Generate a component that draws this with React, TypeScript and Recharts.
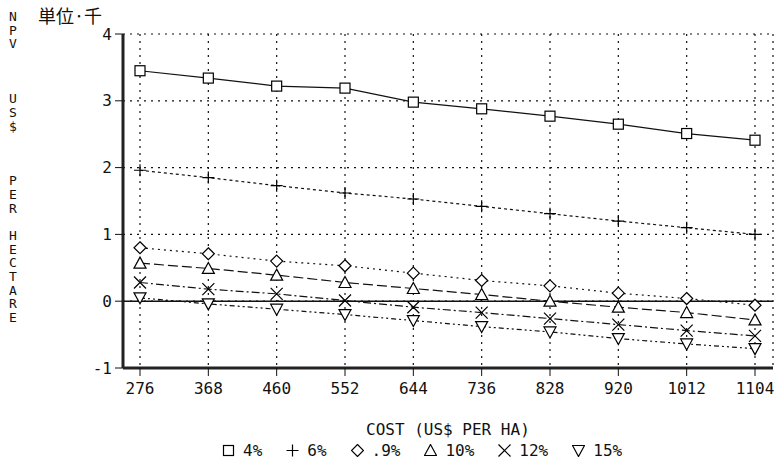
import { LineChart, Line, XAxis, YAxis, CartesianGrid, ReferenceLine } from 'recharts'

const costs = ['276', '368', '460', '552', '644', '736', '828', '920', '1012', '1104']
const npv4 = [3.45, 3.34, 3.22, 3.19, 2.98, 2.88, 2.77, 2.65, 2.51, 2.41]
const npv6 = [1.96, 1.85, 1.73, 1.62, 1.53, 1.42, 1.31, 1.2, 1.1, 1.0]
const npv9 = [0.8, 0.71, 0.6, 0.53, 0.42, 0.31, 0.23, 0.12, 0.04, -0.06]
const npv10 = [0.57, 0.49, 0.39, 0.28, 0.19, 0.1, 0.0, -0.09, -0.17, -0.28]
const npv12 = [0.28, 0.18, 0.11, 0.01, -0.09, -0.17, -0.26, -0.35, -0.44, -0.52]
const npv15 = [0.05, -0.04, -0.12, -0.2, -0.29, -0.38, -0.46, -0.56, -0.64, -0.71]
const yTicks = [-1, 0, 1, 2, 3, 4]

type Kind = 'square' | 'plus' | 'diamond' | 'triangle' | 'cross' | 'down'

const series: { key: string; name: string; kind: Kind; dash?: string }[] = [
  { key: 'r4', name: '4%', kind: 'square' },
  { key: 'r6', name: '6%', kind: 'plus', dash: '3 3' },
  { key: 'r9', name: '.9%', kind: 'diamond', dash: '2 4' },
  { key: 'r10', name: '10%', kind: 'triangle', dash: '10 4' },
  { key: 'r12', name: '12%', kind: 'cross', dash: '8 3 2 3' },
  { key: 'r15', name: '15%', kind: 'down', dash: '5 3 2 3 2 3' },
]

const data = costs.map((c, i) => ({
  cost: c,
  r4: npv4[i],
  r6: npv6[i],
  r9: npv9[i],
  r10: npv10[i],
  r12: npv12[i],
  r15: npv15[i],
}))

const yLetters = 'NPV   US$   PER HECTARE'.split('')
const mono = '"DejaVu Sans Mono", monospace'
const frame = { stroke: '#222', strokeWidth: 3 }

function Marker({ cx, cy, kind }: { cx: number; cy: number; kind: Kind }) {
  const s = 6
  const st = { stroke: '#000', strokeWidth: 1.2, fill: '#fff' }
  switch (kind) {
    case 'square':
      return <rect x={cx - 5} y={cy - 5} width={10} height={10} {...st} />
    case 'plus':
      return <path d={`M${cx - s} ${cy}H${cx + s}M${cx} ${cy - s}V${cy + s}`} {...st} fill="none" />
    case 'diamond':
      return <path d={`M${cx} ${cy - s}L${cx + s} ${cy}L${cx} ${cy + s}L${cx - s} ${cy}Z`} {...st} />
    case 'triangle':
      return <path d={`M${cx} ${cy - s}L${cx + s} ${cy + 5}L${cx - s} ${cy + 5}Z`} {...st} />
    case 'cross':
      return <path d={`M${cx - s} ${cy - s}L${cx + s} ${cy + s}M${cx + s} ${cy - s}L${cx - s} ${cy + s}`} {...st} fill="none" />
    default:
      return <path d={`M${cx - s} ${cy - 5}L${cx + s} ${cy - 5}L${cx} ${cy + s}Z`} {...st} />
  }
}

export default function App() {
  return (
    <div style={{ position: 'absolute', left: 0, top: 0, width: 779, height: 471, background: '#fff', fontFamily: mono, color: '#111' }}>
      <LineChart width={779} height={471} data={data} margin={{ top: 34, right: 6, bottom: 0, left: 0 }}>
        <CartesianGrid stroke="#111" strokeWidth={1.2} strokeDasharray="2 5" />
        <XAxis
          dataKey="cost"
          height={103}
          padding={{ left: 17, right: 18 }}
          tickSize={8}
          tickMargin={7}
          tick={{ fontSize: 16, fill: '#111', fontFamily: mono }}
          tickLine={{ stroke: '#111' }}
          axisLine={frame}
          interval={0}
        />
        <XAxis xAxisId="top" dataKey="cost" orientation="top" height={0} tick={false} tickLine={false} axisLine={frame} padding={{ left: 17, right: 18 }} />
        <YAxis
          domain={[-1, 4]}
          ticks={yTicks}
          width={123}
          tickSize={8}
          tickMargin={3}
          tick={{ fontSize: 16, fill: '#111', fontFamily: mono }}
          tickLine={{ stroke: '#111' }}
          axisLine={frame}
        />
        <YAxis yAxisId="right" orientation="right" domain={[-1, 4]} width={0} tick={false} tickLine={false} axisLine={frame} />
        <ReferenceLine y={0} stroke="#111" strokeWidth={1.5} />
        {series.map((s) => (
          <Line
            key={s.key}
            dataKey={s.key}
            stroke="#111"
            strokeWidth={1.2}
            strokeDasharray={s.dash}
            isAnimationActive={false}
            dot={(p: any) => <Marker key={`${s.key}-${p.index}`} cx={p.cx} cy={p.cy} kind={s.kind} />}
          />
        ))}
      </LineChart>

      <div style={{ position: 'absolute', left: 38, top: 6, fontSize: 18, lineHeight: 1, fontFamily: '"Noto Sans CJK JP", sans-serif' }}>単位·千</div>

      <div style={{ position: 'absolute', left: 6, top: 10, width: 14, fontSize: 13, textAlign: 'center' }}>
        {yLetters.map((ch, i) => (
          <div key={i} style={{ height: 13.7, lineHeight: '13.7px' }}>{ch === ' ' ? '\u00a0' : ch}</div>
        ))}
      </div>

      <div style={{ position: 'absolute', left: 366, top: 420, fontSize: 16, whiteSpace: 'pre' }}>COST (US$ PER HA)</div>

      <div style={{ position: 'absolute', left: 222, top: 441, display: 'flex', gap: 24, fontSize: 16, alignItems: 'center' }}>
        {series.map((s) => (
          <div key={s.key} style={{ display: 'flex', alignItems: 'center', gap: 8 }}>
            <svg width={13} height={13}>
              <Marker cx={6.5} cy={6.5} kind={s.kind} />
            </svg>
            <span>{s.name}</span>
          </div>
        ))}
      </div>
    </div>
  )
}
